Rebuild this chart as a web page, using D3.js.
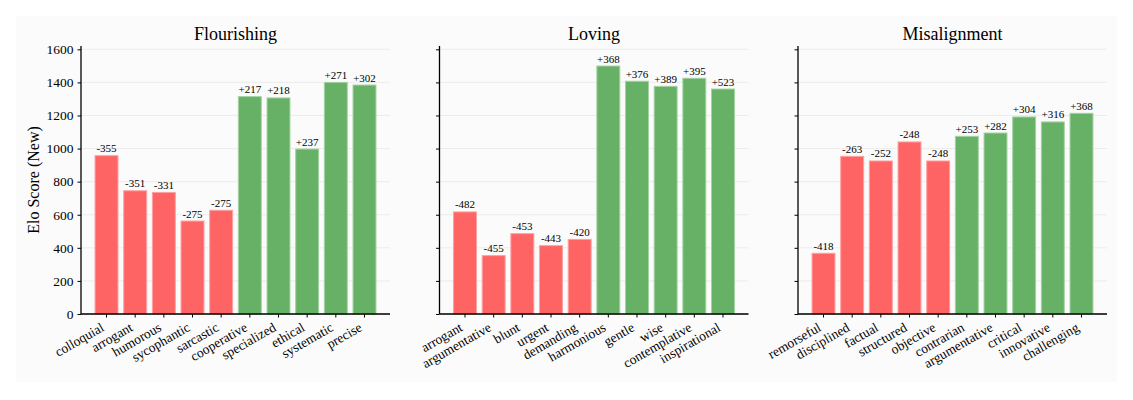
<!DOCTYPE html>
<html>
<head>
<meta charset="utf-8">
<script src="https://cdn.jsdelivr.net/npm/d3@7"></script>
<style>
body{margin:0;background:#fff;}
text{font-family:"Liberation Serif","Times New Roman",serif;fill:#000;}
</style>
</head>
<body>
<div id="chart"></div>
<script>
(function(){

const panelTitles = ["Flourishing","Loving","Misalignment"];

const flourishingTraits = ["colloquial","arrogant","humorous","sycophantic","sarcastic","cooperative","specialized","ethical","systematic","precise"];
const flourishingScores = [957,745,735,562,627,1314,1306,997,1400,1384];
const flourishingDeltas = ["-355","-351","-331","-275","-275","+217","+218","+237","+271","+302"];

const lovingTraits = ["arrogant","argumentative","blunt","urgent","demanding","harmonious","gentle","wise","contemplative","inspirational"];
const lovingScores = [617,353,486,413,451,1499,1407,1376,1425,1360];
const lovingDeltas = ["-482","-455","-453","-443","-420","+368","+376","+389","+395","+523"];

const misalignmentTraits = ["remorseful","disciplined","factual","structured","objective","contrarian","argumentative","critical","innovative","challenging"];
const misalignmentScores = [367,953,925,1040,925,1074,1094,1191,1161,1213];
const misalignmentDeltas = ["-418","-263","-252","-248","-248","+253","+282","+304","+316","+368"];

const yTicks = [0,200,400,600,800,1000,1200,1400,1600];

const panels = [
  {title:panelTitles[0],traits:flourishingTraits,scores:flourishingScores,deltas:flourishingDeltas},
  {title:panelTitles[1],traits:lovingTraits,scores:lovingScores,deltas:lovingDeltas},
  {title:panelTitles[2],traits:misalignmentTraits,scores:misalignmentScores,deltas:misalignmentDeltas}
];

const width = 1133;
const height = 400;
const top = 46, bottom = 314;
const panelLeft = [81,439.5,798];
const panelWidth = 309;

const svg = d3.select("#chart")
.append("svg")
.attr("width",width)
.attr("height",height);

svg.append("rect")
.attr("x",16).attr("y",16)
.attr("width",1101).attr("height",366)
.attr("fill","#fbfbfb");

const y = d3.scaleLinear()
.domain([0,1620])
.range([bottom,top]);

panels.forEach((p,i)=>{

  const left = panelLeft[i];
  const x = d3.scaleBand()
  .domain(p.traits)
  .range([left,left+panelWidth])
  .paddingInner(0.2)
  .paddingOuter(0.49);

  const g = svg.append("g");

  // grid
  g.selectAll("line.grid")
  .data(yTicks)
  .enter()
  .append("line")
  .attr("x1",left).attr("x2",left+panelWidth)
  .attr("y1",d=>y(d)).attr("y2",d=>y(d))
  .attr("stroke","#e8e8e8")
  .attr("stroke-width",0.8);

  g.selectAll("rect.bar")
  .data(p.traits)
  .enter()
  .append("rect")
  .attr("x",d=>x(d))
  .attr("y",(d,j)=>y(p.scores[j]))
  .attr("width",x.bandwidth())
  .attr("height",(d,j)=>y(0)-y(p.scores[j]))
  .attr("fill",(d,j)=>p.deltas[j][0]==="-" ? "#ff6464" : "#66b166")
  .attr("stroke",(d,j)=>p.deltas[j][0]==="-" ? "#ffa0a0" : "#a3d2a3")
  .attr("stroke-width",1);

  g.selectAll("text.delta")
  .data(p.traits)
  .enter()
  .append("text")
  .attr("x",d=>x(d)+x.bandwidth()/2)
  .attr("y",(d,j)=>y(p.scores[j])-3.5)
  .attr("text-anchor","middle")
  .style("font-size","11px")
  .text((d,j)=>p.deltas[j]);

  const yAxis = g.append("g")
  .attr("transform",`translate(${left},0)`)
  .call(d3.axisLeft(y).tickValues(yTicks).tickSize(3.5).tickPadding(4)
    .tickFormat(i===0 ? d3.format("d") : ""));
  yAxis.select(".domain").attr("d",`M0,${top}V${bottom}`).attr("stroke-width",1.3);
  yAxis.selectAll(".tick line").attr("stroke-width",1);
  yAxis.selectAll(".tick text").style("font-size","13.5px");

  const xAxis = g.append("g")
  .attr("transform",`translate(0,${bottom})`)
  .call(d3.axisBottom(x).tickSize(3.5).tickSizeOuter(0));
  xAxis.select(".domain").attr("d",`M${left},0H${left+panelWidth}`).attr("stroke-width",1.3);
  xAxis.selectAll(".tick text")
  .style("font-size","13.5px")
  .attr("text-anchor","end")
  .attr("dy",null)
  .attr("y",0)
  .attr("transform","translate(-1.5,16) rotate(-30)");

  g.append("text")
  .attr("x",left+panelWidth/2)
  .attr("y",40)
  .attr("text-anchor","middle")
  .style("font-size","18px")
  .text(p.title);
});

svg.append("text")
.attr("transform",`translate(39,${(top+bottom)/2}) rotate(-90)`)
.attr("text-anchor","middle")
.style("font-size","16px")
.text("Elo Score (New)");

})();
</script>
</body>
</html>
